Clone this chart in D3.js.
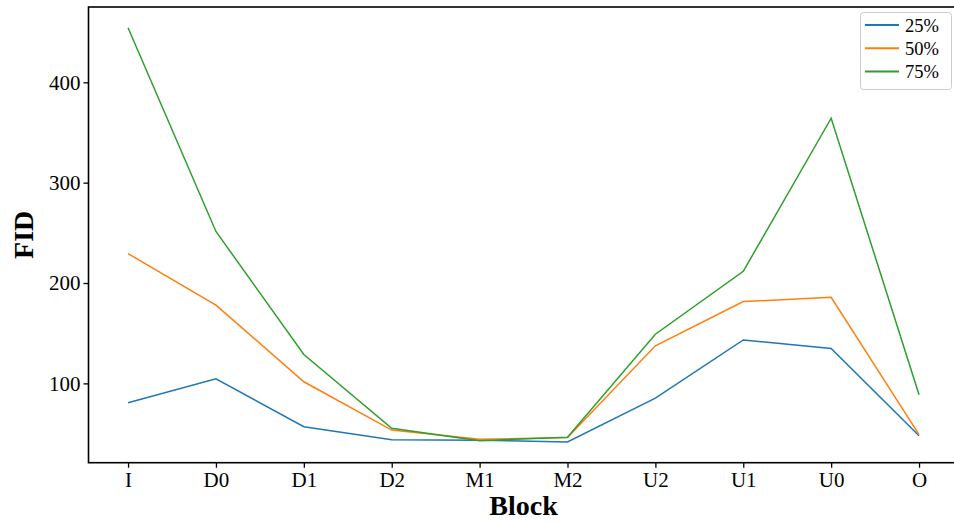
<!DOCTYPE html>
<html>
<head>
<meta charset="utf-8">
<script src="https://cdn.jsdelivr.net/npm/d3@7"></script>
<style>
  body { margin: 0; background: #fff; }
  text { font-family: "Liberation Serif", "DejaVu Serif", serif; }
</style>
</head>
<body>
<script>
// data
var blocks = ["I", "D0", "D1", "D2", "M1", "M2", "U2", "U1", "U0", "O"];
var fid25 = [80.7, 104.5, 56.8, 43.9, 43.3, 41.6, 85.3, 143.3, 134.8, 47.8];
var fid50 = [229.3, 177.9, 101.6, 53.5, 44.3, 46.0, 137.4, 181.5, 185.8, 48.9];
var fid75 = [454.4, 251.4, 128.8, 55.2, 42.9, 46.3, 149.0, 211.7, 364.2, 88.6];
var seriesNames = ["25%", "50%", "75%"];
var yTicks = [100, 200, 300, 400];

var colors = ["#1f77b4", "#ff7f0e", "#2ca02c"];
var series = [fid25, fid50, fid75];

var W = 954, H = 522;
// plot box (right edge sits past the window, as in the reference)
var pLeft = 88.5, pRight = 958.6, pTop = 7, pBottom = 462.7;

var svg = d3.select("body").append("svg").attr("width", W).attr("height", H);

// y domain like matplotlib's 5% margins
var all = fid25.concat(fid50, fid75);
var lo = d3.min(all), hi = d3.max(all), pad = (hi - lo) * 0.05;

var x = d3.scalePoint().domain(blocks).range([pLeft, pRight]).padding(0.45);
var y = d3.scaleLinear().domain([lo - pad, hi + pad]).range([pBottom, pTop]);

// lines
var line = d3.line()
    .x(function(d, i) { return x(blocks[i]); })
    .y(function(d) { return y(d); });

svg.selectAll("path.series").data(series).enter().append("path")
    .attr("class", "series")
    .attr("d", line)
    .attr("fill", "none")
    .attr("stroke", function(d, i) { return colors[i]; })
    .attr("stroke-width", 1.5);

// frame
svg.append("rect")
    .attr("x", pLeft).attr("y", pTop)
    .attr("width", pRight - pLeft).attr("height", pBottom - pTop)
    .attr("fill", "none").attr("stroke", "#000").attr("stroke-width", 1.6);

// axes
var xAxis = d3.axisBottom(x).tickSize(5).tickPadding(4);
var gx = svg.append("g").attr("transform", "translate(0," + pBottom + ")").call(xAxis);
gx.select(".domain").remove();
gx.selectAll("line").attr("stroke", "#000").attr("stroke-width", 1.3);
gx.selectAll("text").attr("font-size", 21).attr("fill", "#000")
    .attr("font-family", "Liberation Serif, serif");

var yAxis = d3.axisLeft(y).tickValues(yTicks).tickSize(5).tickPadding(3);
var gy = svg.append("g").attr("transform", "translate(" + pLeft + ",0)").call(yAxis);
gy.select(".domain").remove();
gy.selectAll("line").attr("stroke", "#000").attr("stroke-width", 1.3);
gy.selectAll("text").attr("font-size", 21).attr("fill", "#000")
    .attr("font-family", "Liberation Serif, serif");

// axis titles
svg.append("text")
    .attr("x", (pLeft + pRight) / 2).attr("y", 515)
    .attr("text-anchor", "middle")
    .attr("font-size", 28).attr("font-weight", "bold")
    .text("Block");

svg.append("text")
    .attr("transform", "translate(33," + ((pTop + pBottom) / 2) + ") rotate(-90)")
    .attr("text-anchor", "middle")
    .attr("font-size", 28).attr("font-weight", "bold")
    .text("FID");

// legend
var lg = svg.append("g");
lg.append("rect")
    .attr("x", 860.5).attr("y", 12.5)
    .attr("width", 91).attr("height", 77)
    .attr("rx", 3)
    .attr("fill", "#fff").attr("fill-opacity", 0.8)
    .attr("stroke", "#ccc").attr("stroke-width", 1);

var items = lg.selectAll("g.item").data(seriesNames).enter().append("g")
    .attr("class", "item")
    .attr("transform", function(d, i) { return "translate(0," + (25 + i * 23.3) + ")"; });
items.append("line")
    .attr("x1", 865).attr("x2", 899)
    .attr("stroke", function(d, i) { return colors[i]; })
    .attr("stroke-width", 2);
items.append("text")
    .attr("x", 905).attr("y", 6.5)
    .attr("font-size", 18.5).attr("fill", "#000")
    .text(function(d) { return d; });
</script>
</body>
</html>
